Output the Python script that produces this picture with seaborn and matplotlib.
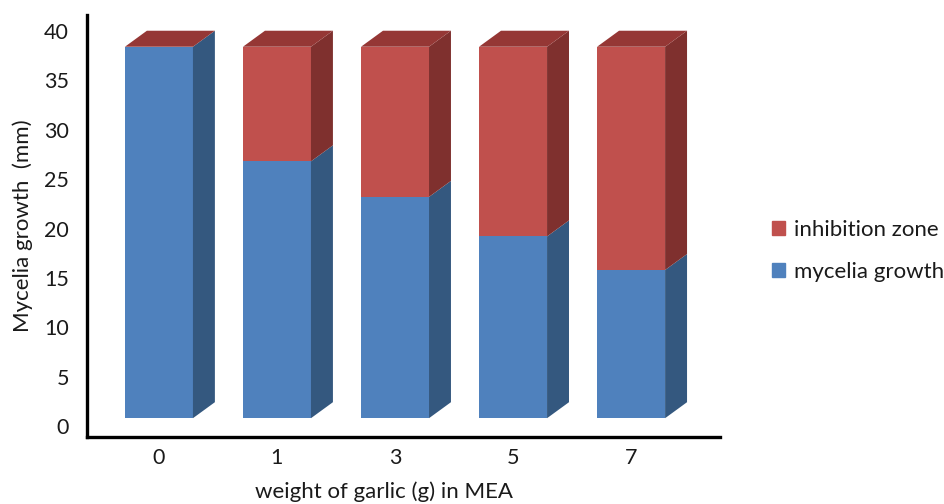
import pandas as pd
import matplotlib.pyplot as plt
import seaborn as sns
from matplotlib.patches import Polygon, Patch

# Datos (mm)
weights = ['0', '1', '3', '5', '7']
mycelia_growth = [37.6, 26.0, 22.4, 18.4, 15.0]
inhibition_zone = [0.0, 11.6, 15.2, 19.2, 22.6]
base = 0.8  # el suelo 3D hace flotar las barras un poco

df = pd.DataFrame({'weight': weights,
                   'mycelia': mycelia_growth,
                   'inhibition': inhibition_zone})
df['total'] = df['mycelia'] + df['inhibition']

blue, blue_side = '#4F81BD', '#34587F'
red, red_side, red_top = '#C0504D', '#7F302E', '#953735'
txt = '#1a1a1a'

sns.set_style('white')
plt.rcParams['font.family'] = ['Lato', 'DejaVu Sans']

fig = plt.figure(figsize=(9.45, 5.04), dpi=100)
ax = fig.add_axes([0.092, 0.133, 0.670, 0.837])

width = 0.576
sns.barplot(data=df, x='weight', y='total', color=red, width=width,
            saturation=1, bottom=base, linewidth=0, ax=ax)
sns.barplot(data=df, x='weight', y='mycelia', color=blue, width=width,
            saturation=1, bottom=base, linewidth=0, ax=ax)

# caras laterales y superior para el efecto 3D
dx, dy = 0.186, 1.62
for i, row in df.iterrows():
    xr = i + width / 2
    xl = i - width / 2
    b = base
    m = base + row['mycelia']
    t = base + row['total']
    ax.add_patch(Polygon([(xr, b), (xr + dx, b + dy), (xr + dx, m + dy), (xr, m)],
                         closed=True, color=blue_side, lw=0))
    if row['inhibition'] > 0:
        ax.add_patch(Polygon([(xr, m), (xr + dx, m + dy), (xr + dx, t + dy), (xr, t)],
                             closed=True, color=red_side, lw=0))
    ax.add_patch(Polygon([(xl, t), (xl + dx, t + dy), (xr + dx, t + dy), (xr, t)],
                         closed=True, color=red_top, lw=0))

ax.set_xlim(-0.61, 4.754)
ax.set_ylim(-1.1, 41.6)
ax.set_yticks(range(0, 41, 5))
ax.tick_params(axis='both', length=0, labelsize=15.5, labelcolor=txt)
ax.tick_params(axis='x', pad=8)
ax.tick_params(axis='y', pad=13)

for side in ['top', 'right']:
    ax.spines[side].set_visible(False)
for side in ['left', 'bottom']:
    ax.spines[side].set_color('black')
    ax.spines[side].set_linewidth(2.4)

ax.set_xlabel('weight of garlic (g) in MEA', fontsize=16, color=txt)
ax.set_ylabel('Mycelia growth  (mm)', fontsize=16, color=txt)
ax.xaxis.set_label_coords(0.469, -0.105)
ax.yaxis.set_label_coords(-0.085, 0.5)

handles = [Patch(color=red, label='inhibition zone'),
           Patch(color=blue, label='mycelia growth')]
fig.legend(handles=handles, loc='center left', bbox_to_anchor=(0.817, 0.502),
           frameon=False, fontsize=16, labelcolor=txt, handlelength=0.6,
           handleheight=0.6, handletextpad=0.4, labelspacing=1.0,
           borderpad=0, borderaxespad=0)

plt.savefig('out.png', dpi=100)
